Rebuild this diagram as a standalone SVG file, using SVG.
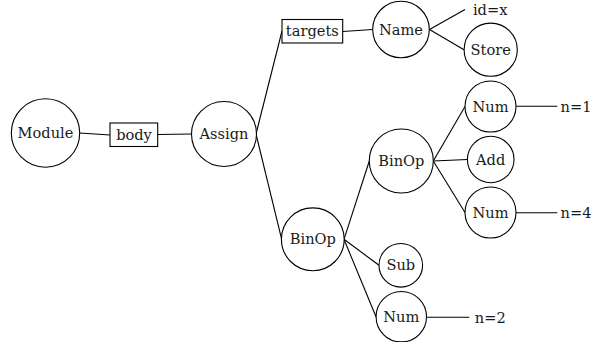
<svg xmlns="http://www.w3.org/2000/svg" width="592" height="342" viewBox="0 0 592 342">
<style>
.n{fill:#fff;stroke:#000;stroke-width:1.1}
.t{font-family:'DejaVu Serif',serif;font-size:14.6px;fill:#1a1a1a;text-anchor:middle}
.e{stroke:#000;stroke-width:1.1;fill:none}
</style>
<rect width="592" height="342" fill="#fff"/>
<g id="connectors">
<line class="e" x1="79.5" y1="133" x2="110" y2="135"/>
<line class="e" x1="157.7" y1="134.5" x2="191.5" y2="134"/>
<line class="e" x1="256" y1="134" x2="282" y2="31"/>
<line class="e" x1="256" y1="134" x2="281.7" y2="239.3"/>
<line class="e" x1="342.7" y1="31.5" x2="372.7" y2="29.5"/>
<line class="e" x1="429.5" y1="29.5" x2="465" y2="9.5"/>
<line class="e" x1="429.5" y1="29.5" x2="464" y2="49.7"/>
<line class="e" x1="344" y1="239.3" x2="369.3" y2="161"/>
<line class="e" x1="433.3" y1="161" x2="465" y2="106.5"/>
<line class="e" x1="433.3" y1="161" x2="467.3" y2="159.5"/>
<line class="e" x1="433.3" y1="161" x2="465" y2="212.5"/>
<line class="e" x1="516" y1="106.2" x2="557.3" y2="106.2"/>
<line class="e" x1="516" y1="212.7" x2="557.3" y2="212.7"/>
<line class="e" x1="344" y1="239.3" x2="379" y2="265.3"/>
<line class="e" x1="344" y1="239.3" x2="376" y2="316.7"/>
<line class="e" x1="426.7" y1="317.2" x2="469.3" y2="317.2"/>
</g>
<g id="module"><circle class="n" cx="45.5" cy="133" r="34.2"/><text class="t" x="45.5" y="138">Module</text></g>
<g id="body"><rect class="n" x="110" y="123" width="47.7" height="23.5"/><text class="t" x="134" y="139.5">body</text></g>
<g id="assign"><circle class="n" cx="224" cy="134" r="32.5"/><text class="t" x="224" y="139">Assign</text></g>
<g id="targets"><rect class="n" x="282" y="19.5" width="60.7" height="23.5"/><text class="t" x="312.3" y="36">targets</text></g>
<g id="name"><circle class="n" cx="401" cy="29.5" r="28.3"/><text class="t" x="401" y="34.5">Name</text></g>
<g id="idx"><text class="t" x="490.2" y="14.5">id=x</text></g>
<g id="store"><circle class="n" cx="490.7" cy="49.7" r="26.6"/><text class="t" x="490.7" y="54.7">Store</text></g>
<g id="binop1"><circle class="n" cx="312.8" cy="239.3" r="31.4"/><text class="t" x="312.8" y="244.3">BinOp</text></g>
<g id="binop2"><circle class="n" cx="401.3" cy="161" r="32"/><text class="t" x="401.3" y="166">BinOp</text></g>
<g id="num1"><circle class="n" cx="490.5" cy="106.5" r="25.5"/><text class="t" x="490.5" y="111.5">Num</text></g>
<g id="n1"><text class="t" x="576" y="111.5">n=1</text></g>
<g id="add"><circle class="n" cx="490.7" cy="159.5" r="23.3"/><text class="t" x="490.7" y="164.5">Add</text></g>
<g id="num4"><circle class="n" cx="490.5" cy="212.5" r="25.5"/><text class="t" x="490.5" y="217.5">Num</text></g>
<g id="n4"><text class="t" x="576" y="218">n=4</text></g>
<g id="sub"><circle class="n" cx="400.8" cy="265.3" r="21.8"/><text class="t" x="400.8" y="270.3">Sub</text></g>
<g id="num2"><circle class="n" cx="401.3" cy="316.7" r="25.2"/><text class="t" x="401.3" y="321.7">Num</text></g>
<g id="n2"><text class="t" x="490.3" y="322.5">n=2</text></g>
</svg>
